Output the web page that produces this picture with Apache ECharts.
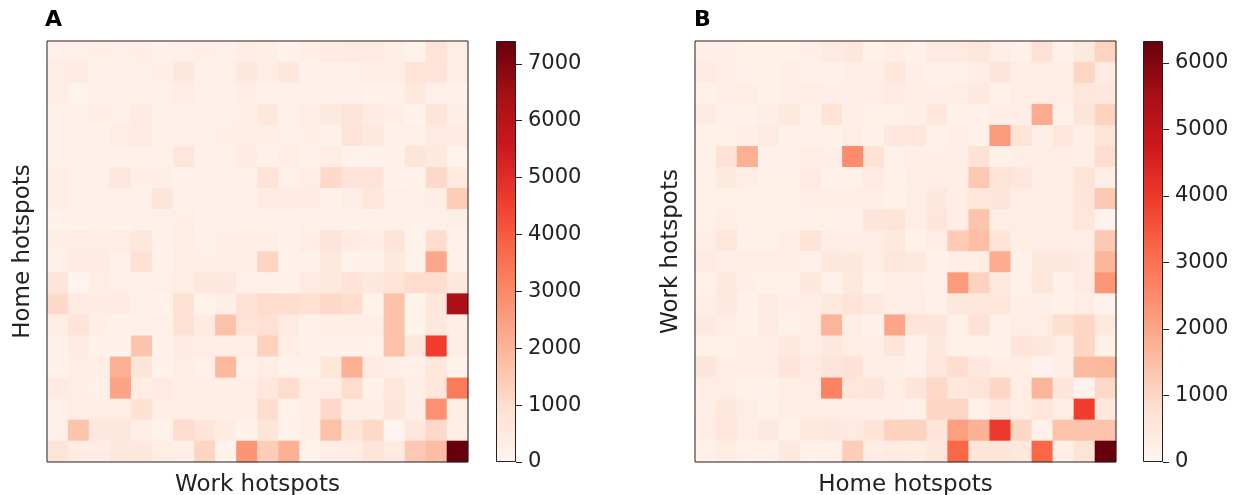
<!DOCTYPE html>
<html>
<head>
<meta charset="utf-8">
<title>Home / work hotspots</title>
<script src="https://cdn.jsdelivr.net/npm/echarts@6/dist/echarts.min.js"></script>
<style>
  html, body { margin: 0; padding: 0; background: #fff; }
  #main { width: 1245px; height: 495px; }
</style>
</head>
<body>
<div id="main"></div>
<script>
// hotspot index, same for both axes
const hotspots = ['0', '1', '2', '3', '4', '5', '6', '7', '8', '9',
  '10', '11', '12', '13', '14', '15', '16', '17', '18', '19']

// A: rows = home hotspot (top to bottom), cols = work hotspot
const countsA = [
  [250, 250, 300, 250, 300, 200, 250, 300, 250, 350, 300, 150, 300, 450, 500, 500, 300, 150, 800, 350],
  [400, 450, 200, 250, 250, 300, 600, 200, 250, 600, 400, 600, 150, 200, 250, 300, 350, 800, 750, 400],
  [400, 100, 200, 250, 250, 250, 350, 250, 200, 350, 200, 200, 200, 200, 250, 150, 200, 550, 250, 150],
  [200, 200, 300, 250, 450, 200, 250, 250, 250, 300, 600, 200, 350, 550, 700, 450, 300, 150, 700, 300],
  [200, 200, 200, 400, 450, 200, 250, 250, 300, 350, 300, 250, 300, 150, 750, 550, 200, 250, 500, 450],
  [200, 200, 200, 200, 200, 200, 650, 200, 200, 450, 200, 350, 200, 350, 150, 150, 150, 700, 550, 100],
  [350, 250, 250, 600, 300, 300, 150, 200, 250, 250, 800, 250, 350, 1100, 750, 750, 150, 150, 1100, 500],
  [400, 250, 250, 200, 250, 700, 150, 200, 250, 250, 450, 450, 450, 200, 350, 650, 250, 200, 300, 1400],
  [150, 150, 200, 150, 200, 250, 300, 150, 200, 200, 200, 200, 250, 200, 200, 200, 200, 200, 250, 300],
  [300, 350, 400, 350, 600, 200, 400, 250, 300, 350, 300, 150, 400, 700, 450, 350, 750, 150, 1000, 200],
  [250, 450, 450, 250, 900, 150, 400, 300, 300, 300, 1200, 150, 150, 550, 150, 150, 550, 150, 2300, 200],
  [700, 100, 400, 250, 250, 250, 400, 600, 600, 250, 250, 200, 500, 550, 800, 600, 800, 1000, 1000, 600],
  [1100, 500, 450, 500, 250, 150, 900, 150, 300, 900, 1000, 1000, 900, 1100, 1000, 150, 1700, 150, 600, 6300],
  [350, 750, 300, 200, 200, 250, 900, 450, 1700, 800, 900, 500, 200, 300, 300, 300, 1700, 150, 600, 300],
  [150, 450, 150, 150, 1600, 150, 450, 400, 300, 400, 1300, 350, 150, 150, 150, 150, 1700, 600, 4600, 400],
  [150, 350, 350, 2100, 700, 150, 400, 250, 1900, 200, 400, 150, 150, 650, 2100, 500, 300, 250, 650, 150],
  [500, 400, 250, 2400, 400, 500, 300, 300, 300, 350, 600, 1000, 400, 350, 1000, 150, 650, 300, 650, 3300],
  [250, 350, 400, 350, 850, 300, 400, 300, 300, 300, 1000, 150, 350, 1100, 300, 300, 700, 300, 2800, 400],
  [250, 1600, 600, 600, 300, 150, 1000, 700, 450, 150, 700, 150, 300, 1700, 700, 1100, 100, 600, 1100, 300],
  [750, 450, 350, 600, 600, 400, 300, 1200, 150, 2700, 1400, 2100, 150, 350, 350, 700, 500, 1500, 1800, 7400]
]

// B: rows = work hotspot (top to bottom), cols = home hotspot
const countsB = [
  [250, 250, 200, 200, 200, 250, 400, 500, 200, 350, 150, 400, 400, 550, 250, 150, 700, 150, 450, 1050],
  [400, 250, 150, 200, 250, 150, 150, 250, 250, 550, 250, 150, 150, 300, 600, 300, 350, 300, 1000, 400],
  [200, 250, 350, 200, 250, 350, 250, 250, 250, 400, 300, 250, 300, 450, 150, 300, 300, 300, 550, 500],
  [400, 150, 150, 250, 450, 150, 650, 250, 200, 200, 250, 550, 150, 150, 250, 250, 1900, 150, 600, 1100],
  [200, 200, 250, 400, 150, 150, 150, 350, 150, 500, 550, 150, 250, 150, 2200, 650, 250, 550, 250, 650],
  [150, 700, 1800, 150, 150, 350, 250, 2500, 700, 150, 250, 250, 250, 700, 200, 250, 300, 300, 250, 850],
  [200, 450, 300, 200, 200, 400, 100, 200, 400, 200, 300, 350, 300, 1300, 650, 550, 300, 300, 650, 250],
  [200, 200, 200, 200, 200, 250, 300, 350, 350, 200, 300, 500, 300, 550, 600, 300, 350, 350, 600, 1300],
  [200, 350, 200, 200, 200, 150, 200, 150, 600, 650, 300, 600, 300, 1400, 300, 300, 300, 300, 550, 100],
  [250, 550, 150, 200, 300, 650, 300, 250, 300, 450, 200, 300, 1250, 1500, 600, 350, 350, 350, 300, 1300],
  [400, 250, 350, 350, 350, 150, 500, 500, 300, 550, 450, 150, 250, 350, 1900, 150, 500, 500, 400, 1700],
  [200, 450, 250, 200, 200, 500, 150, 450, 200, 300, 250, 150, 2200, 1100, 450, 200, 550, 150, 400, 2300],
  [250, 450, 150, 400, 250, 300, 450, 650, 450, 250, 300, 150, 500, 500, 550, 250, 250, 150, 300, 100],
  [450, 300, 200, 400, 200, 300, 1700, 300, 150, 2000, 600, 600, 200, 700, 150, 300, 350, 800, 1000, 450],
  [200, 200, 350, 350, 450, 300, 500, 350, 250, 600, 150, 500, 200, 200, 150, 600, 500, 350, 1000, 200],
  [600, 300, 300, 350, 600, 400, 600, 700, 300, 250, 150, 550, 850, 500, 350, 350, 100, 300, 1600, 1650],
  [300, 300, 200, 150, 350, 300, 2700, 550, 600, 350, 600, 950, 500, 650, 1000, 350, 1700, 600, 100, 950],
  [250, 500, 300, 200, 350, 350, 350, 250, 250, 250, 150, 1000, 1000, 150, 550, 350, 550, 350, 3900, 500],
  [300, 550, 300, 450, 200, 450, 500, 400, 650, 1100, 1100, 600, 2100, 1750, 4000, 1000, 150, 1400, 1400, 1400],
  [200, 350, 150, 200, 450, 150, 200, 1200, 300, 400, 350, 500, 3200, 600, 600, 500, 3200, 250, 650, 6330]
]

// colour bar range and ticks
const maxA = 7400
const maxB = 6330
const ticksA = [0, 1000, 2000, 3000, 4000, 5000, 6000, 7000]
const ticksB = [0, 1000, 2000, 3000, 4000, 5000, 6000]

// matplotlib "Reds"
const reds = ['#fff5f0', '#fee0d2', '#fcbba1', '#fc9272', '#fb6a4a', '#ef3b2c', '#cb181d', '#a50f15', '#67000d']

const font = 'DejaVu Sans'
const ink = '#222'

function toCells(rows) {
  const out = []
  rows.forEach(function (row, r) {
    row.forEach(function (v, c) {
      out.push([c, r, v])
    })
  })
  return out
}

function gradient() {
  // bottom (0) -> top (max)
  return new echarts.graphic.LinearGradient(0, 1, 0, 0, reds.map(function (c, i) {
    return { offset: i / (reds.length - 1), color: c }
  }))
}

function heatAxes(gridIndex, xName, yName) {
  return {
    x: {
      type: 'category', gridIndex: gridIndex, data: hotspots,
      axisLine: { show: false }, axisTick: { show: false }, axisLabel: { show: false },
      splitLine: { show: false },
      name: xName, nameLocation: 'middle', nameGap: 12,
      nameTextStyle: { fontFamily: font, fontSize: 23, color: ink }
    },
    y: {
      type: 'category', gridIndex: gridIndex, data: hotspots, inverse: true,
      axisLine: { show: false }, axisTick: { show: false }, axisLabel: { show: false },
      splitLine: { show: false },
      name: yName, nameLocation: 'middle', nameGap: 12, nameRotate: 90,
      nameTextStyle: { fontFamily: font, fontSize: 23, color: ink }
    }
  }
}

function barAxes(gridIndex, max, ticks) {
  return {
    x: {
      type: 'category', gridIndex: gridIndex, data: ['cb'],
      axisLine: { show: false }, axisTick: { show: false }, axisLabel: { show: false }
    },
    y: {
      type: 'value', gridIndex: gridIndex, position: 'right', min: 0, max: max,
      axisLine: { show: false },
      splitLine: { show: false },
      axisTick: { show: true, length: 6, lineStyle: { color: ink }, customValues: ticks },
      axisLabel: {
        margin: 12, fontFamily: font, fontSize: 21, color: ink, customValues: ticks,
        formatter: function (v) { return String(v) }
      }
    }
  }
}

const hA = heatAxes(0, 'Work hotspots', 'Home hotspots')
const cA = barAxes(1, maxA, ticksA)
const hB = heatAxes(2, 'Home hotspots', 'Work hotspots')
const cB = barAxes(3, maxB, ticksB)

// fixed boxes: do not let echarts shrink the grids to fit names/labels
const fixed = { outerBoundsMode: 'none', containLabel: false }
const frame = Object.assign({ show: true, borderColor: ink, borderWidth: 1, z: 5 }, fixed)

const option = {
  animation: false,
  backgroundColor: '#fff',
  title: [
    { text: 'A', left: 45, top: 9, padding: 0, textStyle: { fontFamily: font, fontSize: 22, fontWeight: 'bold', color: '#000' } },
    { text: 'B', left: 694, top: 9, padding: 0, textStyle: { fontFamily: font, fontSize: 22, fontWeight: 'bold', color: '#000' } }
  ],
  grid: [
    Object.assign({ left: 47, top: 41, width: 421, height: 421 }, frame),
    Object.assign({ left: 496, top: 41, width: 20, height: 421 }, fixed),
    Object.assign({ left: 695, top: 41, width: 421, height: 421 }, frame),
    Object.assign({ left: 1143, top: 41, width: 20, height: 421 }, fixed)
  ],
  xAxis: [hA.x, cA.x, hB.x, cB.x],
  yAxis: [hA.y, cA.y, hB.y, cB.y],
  visualMap: [
    { type: 'continuous', show: false, seriesIndex: 0, min: 0, max: maxA, inRange: { color: reds } },
    { type: 'continuous', show: false, seriesIndex: 2, min: 0, max: maxB, inRange: { color: reds } }
  ],
  series: [
    { type: 'heatmap', xAxisIndex: 0, yAxisIndex: 0, data: toCells(countsA), itemStyle: { borderWidth: 0 } },
    {
      type: 'bar', xAxisIndex: 1, yAxisIndex: 1, data: [maxA], barWidth: '100%',
      itemStyle: { color: gradient(), borderColor: ink, borderWidth: 1 }
    },
    { type: 'heatmap', xAxisIndex: 2, yAxisIndex: 2, data: toCells(countsB), itemStyle: { borderWidth: 0 } },
    {
      type: 'bar', xAxisIndex: 3, yAxisIndex: 3, data: [maxB], barWidth: '100%',
      itemStyle: { color: gradient(), borderColor: ink, borderWidth: 1 }
    }
  ]
}

const chart = echarts.init(document.getElementById('main'))
chart.setOption(option)
</script>
</body>
</html>
